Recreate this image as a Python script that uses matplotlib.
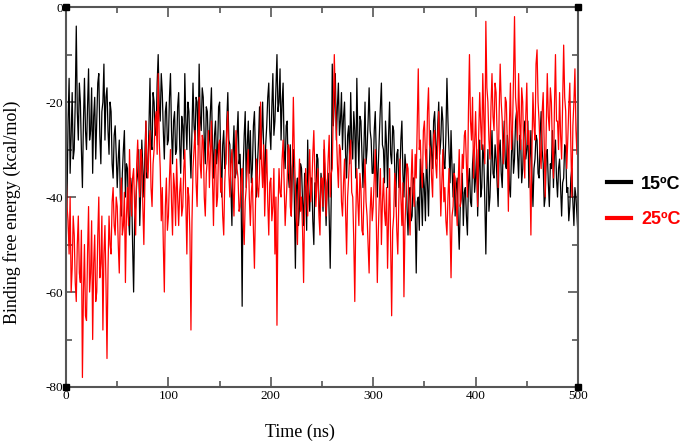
import numpy as np
import matplotlib.pyplot as plt


# binding free energy (kcal/mol), one value per ns from 0 to 500 ns
energy_15 = [
    -52, -40, -24, -15, -35, -27, -18, -32, -30, -20,
    -4, -22, -28, -16, -20, -30, -38, -24, -15, -26,
    -30, -21, -13, -28, -26, -17, -35, -23, -19, -32,
    -24, -16, -14, -27, -33, -22, -20, -12, -28, -19,
    -17, -26, -31, -20, -22, -33, -36, -27, -25, -31,
    -38, -32, -28, -40, -44, -35, -30, -26, -40, -33,
    -34, -44, -48, -36, -38, -50, -60, -45, -42, -37,
    -35, -30, -46, -38, -28, -34, -40, -31, -24, -36,
    -34, -25, -15, -29, -30, -18, -20, -27, -26, -16,
    -10, -21, -24, -14, -18, -26, -32, -22, -20, -29,
    -28, -19, -14, -26, -33, -24, -22, -31, -30, -21,
    -18, -29, -35, -23, -25, -32, -14, -24, -30, -20,
    -22, -30, -36, -26, -16, -25, -28, -19, -20, -29,
    -12, -23, -26, -17, -19, -28, -33, -21, -22, -30,
    -28, -22, -17, -29, -36, -27, -24, -33, -30, -21,
    -20, -31, -40, -29, -26, -34, -33, -24, -18, -28,
    -29, -38, -46, -31, -25, -36, -35, -27, -22, -33,
    -31, -40, -63, -34, -27, -22, -38, -29, -24, -35,
    -26, -37, -34, -25, -22, -31, -40, -33, -28, -21,
    -32, -27, -20, -30, -38, -29, -25, -19, -16, -26,
    -30, -21, -14, -27, -24, -17, -10, -22, -20, -13,
    -28, -20, -16, -30, -34, -25, -24, -35, -38, -29,
    -44, -34, -30, -41, -55, -38, -36, -46, -42, -33,
    -34, -41, -46, -35, -38, -47, -28, -39, -43, -36,
    -36, -45, -50, -37, -40, -31, -32, -42, -44, -35,
    -38, -43, -30, -39, -46, -37, -35, -44, -55, -40,
    -12, -25, -20, -14, -28, -21, -16, -27, -24, -18,
    -30, -23, -20, -31, -36, -27, -25, -33, -18, -28,
    -32, -22, -26, -36, -15, -27, -34, -23, -24, -31,
    -38, -29, -20, -33, -30, -24, -17, -26, -28, -35,
    -35, -26, -22, -31, -40, -33, -27, -21, -16, -29,
    -30, -37, -24, -29, -38, -27, -20, -31, -33, -25,
    -26, -34, -42, -31, -30, -38, -36, -28, -24, -35,
    -40, -31, -34, -42, -48, -39, -38, -45, -44, -36,
    -36, -43, -56, -41, -40, -47, -32, -39, -46, -35,
    -38, -45, -30, -37, -44, -33, -26, -31, -34, -24,
    -22, -29, -32, -25, -20, -31, -28, -21, -24, -33,
    -34, -27, -15, -24, -30, -37, -26, -34, -40, -33,
    -44, -38, -36, -45, -51, -42, -40, -35, -46, -39,
    -38, -44, -48, -37, -34, -41, -42, -33, -30, -39,
    -36, -30, -44, -35, -28, -40, -38, -29, -32, -41,
    -52, -38, -30, -43, -40, -33, -26, -35, -36, -29,
    -32, -37, -42, -30, -28, -35, -38, -29, -24, -33,
    -34, -27, -30, -38, -40, -31, -26, -35, -32, -24,
    -22, -31, -36, -27, -28, -37, -34, -26, -24, -32,
    -30, -24, -38, -33, -26, -35, -42, -34, -32, -27,
    -28, -35, -36, -27, -22, -30, -33, -42, -40, -31,
    -30, -37, -42, -33, -34, -26, -38, -31, -28, -36,
    -40, -34, -32, -38, -44, -37, -36, -29, -30, -39,
    -38, -45, -42, -36, -34, -41, -46, -38, -40, -44,
    -48,
]
energy_25 = [
    -34, -42, -45, -52, -40, -60, -55, -44, -48, -58,
    -62, -50, -44, -56, -58, -47, -78, -60, -50, -65,
    -66, -52, -42, -60, -56, -45, -70, -54, -48, -62,
    -60, -48, -40, -57, -54, -44, -68, -52, -46, -58,
    -74, -55, -44, -50, -52, -41, -38, -46, -48, -40,
    -42, -50, -56, -43, -36, -48, -46, -39, -58, -44,
    -38, -46, -30, -39, -44, -36, -34, -42, -48, -33,
    -28, -36, -40, -30, -32, -42, -50, -37, -24, -33,
    -36, -29, -26, -38, -42, -33, -30, -24, -22, -31,
    -14, -28, -34, -45, -38, -50, -60, -42, -36, -47,
    -44, -36, -30, -41, -48, -35, -38, -46, -32, -40,
    -46, -39, -36, -44, -42, -34, -30, -41, -52, -38,
    -40, -48, -68, -45, -34, -30, -26, -37, -42, -31,
    -19, -33, -36, -27, -28, -40, -44, -35, -32, -26,
    -38, -31, -24, -36, -46, -34, -30, -42, -40, -29,
    -28, -39, -36, -44, -48, -37, -32, -26, -22, -35,
    -40, -33, -30, -38, -44, -35, -26, -34, -36, -43,
    -42, -36, -34, -45, -50, -41, -38, -33, -30, -40,
    -46, -39, -36, -47, -55, -42, -32, -38, -40, -35,
    -20, -33, -38, -29, -44, -36, -30, -41, -48, -37,
    -36, -45, -42, -34, -52, -40, -67, -43, -34, -39,
    -40, -32, -28, -37, -46, -41, -36, -29, -30, -42,
    -44, -33, -19, -31, -38, -45, -50, -39, -32, -43,
    -40, -47, -58, -42, -34, -38, -44, -36, -30, -41,
    -38, -31, -26, -35, -42, -37, -34, -44, -48, -36,
    -36, -42, -28, -33, -44, -38, -32, -27, -40, -35,
    -34, -22, -10, -20, -26, -33, -38, -29, -30, -41,
    -44, -37, -32, -43, -52, -40, -36, -31, -28, -39,
    -40, -49, -62, -44, -34, -41, -46, -35, -38, -47,
    -48, -39, -32, -41, -44, -50, -56, -43, -38, -45,
    -42, -36, -30, -45, -58, -47, -40, -34, -50, -41,
    -36, -43, -46, -38, -55, -44, -34, -49, -65, -47,
    -44, -35, -38, -47, -52, -41, -32, -40, -46, -37,
    -61, -46, -40, -33, -34, -43, -48, -37, -30, -39,
    -42, -31, -36, -25, -13, -30, -28, -35, -38, -26,
    -24, -31, -34, -22, -17, -29, -30, -36, -40, -27,
    -26, -33, -36, -28, -22, -34, -44, -37, -30, -41,
    -38, -45, -48, -40, -34, -46, -57, -44, -42, -35,
    -36, -41, -46, -37, -30, -42, -40, -31, -34, -27,
    -26, -33, -40, -22, -10, -24, -28, -19, -36, -29,
    -22, -31, -42, -27, -18, -25, -30, -14, -24, -33,
    -3, -17, -20, -28, -32, -21, -14, -23, -26, -16,
    -18, -27, -38, -22, -12, -20, -24, -33, -30, -19,
    -20, -29, -43, -25, -16, -30, -26, -15, -2, -19,
    -22, -28, -14, -24, -30, -17, -20, -31, -36, -23,
    -16, -29, -26, -35, -48, -30, -18, -25, -28, -12,
    -9, -20, -24, -31, -34, -22, -18, -29, -40, -25,
    -14, -23, -26, -17, -20, -30, -36, -21, -10, -24,
    -24, -30, -18, -27, -32, -20, -8, -19, -22, -34,
    -28, -21, -16, -29, -40, -25, -20, -13, -26, -31,
    -18,
]
time_ns = np.arange(0, 501)
labels = ['15ºC', '25ºC']
colours = ['black', 'red']

plt.rcParams['font.family'] = ['Liberation Serif', 'DejaVu Serif']
plt.rcParams['axes.unicode_minus'] = False

fig = plt.figure(figsize=(6.85, 4.44), dpi=100)
ax = fig.add_axes([0.0964, 0.1284, 0.7474, 0.8556])

for vals, lab, col in zip([energy_15, energy_25], labels, colours):
    ax.plot(time_ns, vals, color=col, lw=0.9, label=lab)

ax.set_xlim(0, 500)
ax.set_ylim(-80, 0)
ax.set_xticks([0, 100, 200, 300, 400, 500])
ax.set_xticks([50, 150, 250, 350, 450], minor=True)
ax.set_yticks([-80, -60, -40, -20, 0])
ax.set_yticks([-70, -50, -30, -10], minor=True)
ax.tick_params(which='both', direction='in', top=True, right=True,
               colors='#555555', labelcolor='black', labelsize=9.5, width=1.2)
ax.tick_params(which='major', length=7, pad=2)
ax.tick_params(which='minor', length=4)
for s in ax.spines.values():
    s.set_color('#555555')
    s.set_linewidth(1.5)

# little black squares at the corners
for cx, cy in [(0, 0), (0, -80), (500, 0), (500, -80)]:
    ax.plot(cx, cy, 's', color='black', ms=4, clip_on=False, zorder=5)

ax.set_xlabel('Time (ns)', fontsize=13)
ax.xaxis.set_label_coords(0.457, -0.097)
ax.set_ylabel('Binding free energy (kcal/mol)', fontsize=13)
ax.yaxis.set_label_coords(-0.088, 0.46)

leg = ax.legend(loc='center left', bbox_to_anchor=(1.025, 0.487), frameon=False,
                handlelength=1.3, handletextpad=0.6, labelspacing=1.05,
                prop={'family': 'Liberation Sans', 'weight': 'bold', 'size': 13})
for line in leg.get_lines():
    line.set_linewidth(3)
for txt, col in zip(leg.get_texts(), colours):
    txt.set_color(col)

fig.savefig('out.png', dpi=100)
